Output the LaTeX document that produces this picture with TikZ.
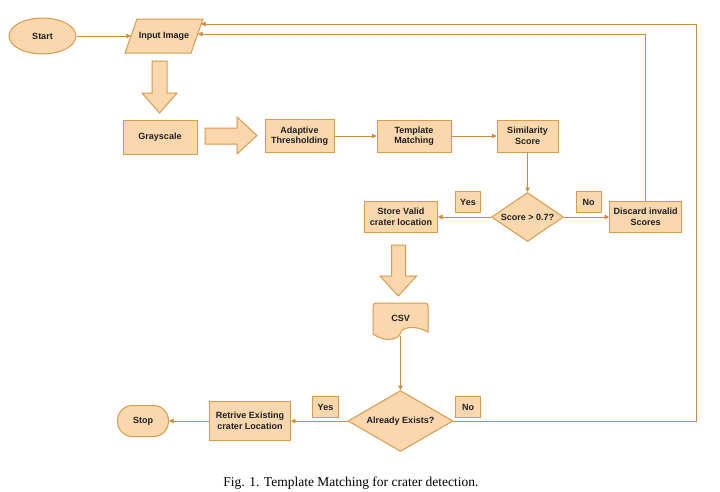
\documentclass[tikz,border=0pt]{standalone}
\usepackage{fontspec}
\setmainfont{Liberation Serif}
\newfontfamily\nodefont{Liberation Sans}
\usetikzlibrary{shapes.geometric,arrows.meta,calc}
\definecolor{fillc}{HTML}{FAD7AC}
\definecolor{strokec}{HTML}{D79B4F}
\definecolor{linec}{HTML}{CB8A3C}
\begin{document}
\begin{tikzpicture}[x=1pt,y=-1pt,
  every node/.style={font=\nodefont\bfseries\fontsize{9}{10.5}\selectfont, text=black!88, align=center, inner sep=0pt},
  box/.style={draw=strokec, fill=fillc, line width=1pt},
  blk/.style={draw=strokec, fill=fillc, line width=1pt, line join=miter},
  conn/.style={draw=linec, line width=0.9pt, -{Triangle[length=4.5pt,width=4.5pt]}}]
\fill[white] (0,0) rectangle (720,491);
\useasboundingbox (0,0) rectangle (720,491);

% Start
\node[ellipse, box, minimum width=67pt, minimum height=36pt] (start) at (42.5,36) {Start};
% Input Image (parallelogram)
\draw[blk] (137,19) -- (203,19) -- (191,53) -- (125,53) -- cycle;
\node[minimum width=66pt, minimum height=34pt] (in) at (164,36) {Input Image};
\coordinate (inR1) at (201,24);
\coordinate (inR2) at (198,34);

% block arrow down
\draw[blk] (152,61) -- (167,61) -- (167,93) -- (177,93) -- (159.5,113) -- (142,93) -- (152,93) -- cycle;
\node[rectangle, box, minimum width=74pt, minimum height=34pt] (gray) at (160,137) {Grayscale};
% block arrow right
\draw[blk] (205,128) -- (237,128) -- (237,117) -- (257,135.5) -- (237,154) -- (237,144) -- (205,144) -- cycle;

\node[rectangle, box, minimum width=69pt, minimum height=33pt] (adapt) at (299.5,136) {Adaptive\\Thresholding};
\node[rectangle, box, minimum width=74pt, minimum height=32pt] (tm) at (414,136) {Template\\Matching};
\node[rectangle, box, minimum width=61pt, minimum height=32pt] (sim) at (527.5,136) {Similarity\\Score};

\node[diamond, box, minimum width=72pt, minimum height=49pt, aspect=1.5] (d1) at (527.5,217) {Score > 0.7?};
\node[rectangle, box, minimum width=25pt, minimum height=21pt] (yes1) at (468,202) {Yes};
\node[rectangle, box, minimum width=25pt, minimum height=21pt] (no1) at (588.5,202) {No};
\node[rectangle, box, minimum width=73pt, minimum height=31pt] (store) at (401,217) {Store Valid\\crater location};
\node[rectangle, box, minimum width=72pt, minimum height=31pt] (disc) at (645.7,217) {Discard invalid\\Scores};

% block arrow down 2
\draw[blk] (391.7,245) -- (405.7,245) -- (405.7,276) -- (416.7,276) -- (398.2,296) -- (380,276) -- (391.7,276) -- cycle;

% CSV document
\draw[blk] (373,334) -- (373,306) [rounded corners=3pt] -- (373,303) -- (428,303) [sharp corners] -- (428,332)
  .. controls (414,324) and (401,328) .. (400.5,333)
  .. controls (400,338) and (387,344) .. (373,334) -- cycle;
\node[minimum width=55pt, minimum height=36pt] (csv) at (400.5,318) {CSV};

\node[diamond, box, minimum width=105pt, minimum height=61pt, aspect=1.7] (d2) at (400.5,421) {Already Exists?};
\node[rectangle, box, minimum width=25.6pt, minimum height=20.7pt] (yes2) at (325.5,407) {Yes};
\node[rectangle, box, minimum width=25.6pt, minimum height=20.7pt] (no2) at (468,407) {No};
\node[rectangle, box, minimum width=80.7pt, minimum height=39pt] (ret) at (250,421) {Retrive Existing\\crater Location};
\node[rectangle, box, rounded corners=15pt, minimum width=51pt, minimum height=31pt] (stop) at (143,421) {Stop};

\coordinate (r1) at (696,421);

% connectors
\draw[conn] (start.east) -- (in.west);
\draw[conn] (adapt.east) -- (tm.west);
\draw[conn] (tm.east) -- (sim.west);
\draw[conn] (sim.south) -- (d1.north);
\draw[conn] (d1.west) -- (store.east);
\draw[conn] (d1.east) -- (disc.west);
\draw[conn] (disc.north) |- (inR2);
\draw[conn] (csv.south) -- (d2.north);
\draw[conn] (d2.west) -- (ret.east);
\draw[conn] (ret.west) -- (stop.east);
\draw[conn] (d2.east) -- (r1) |- (inR1);

% caption
\node[font=\rmfamily\mdseries\fontsize{13.5}{16}\selectfont, text=black, anchor=base] (cap) at (351,486) {Fig. 1. Template Matching for crater detection.};
\end{tikzpicture}
\end{document}
